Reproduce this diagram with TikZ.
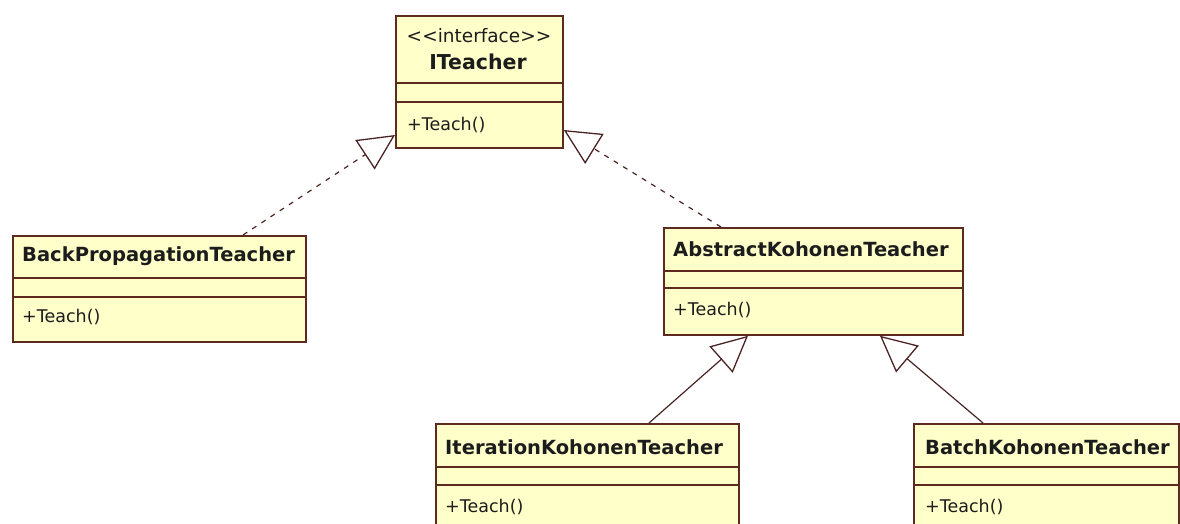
\documentclass[tikz,border=0pt]{standalone}
\usepackage{fontspec}
\setmainfont{DejaVu Sans}
\usetikzlibrary{arrows.meta,calc}
\definecolor{clsfill}{HTML}{FFFFCA}
\definecolor{clsline}{HTML}{5E2A20}
\definecolor{linkline}{HTML}{4A2424}
\definecolor{txt}{HTML}{1C1C1C}
\begin{document}
\begin{tikzpicture}[x=1pt,y=-1pt,
  cls/.style={draw=clsline, fill=clsfill, line width=1.8pt, rectangle, inner sep=0pt, anchor=north west},
  sepline/.style={draw=clsline, line width=1.6pt},
  title/.style={font=\fontsize{19.5}{22}\selectfont\bfseries, text=txt, inner sep=0pt, anchor=west},
  oper/.style={font=\fontsize{17.5}{20}\selectfont, text=txt, inner sep=0pt, anchor=west},
  stereo/.style={font=\fontsize{18.5}{20}\selectfont, text=txt, inner sep=0pt},
  realize/.style={draw=linkline, line width=1.2pt, dash pattern=on 5pt off 6pt,
    -{Triangle[open, length=36pt, width=35pt, line width=1.3pt]}},
  inherit/.style={draw=linkline, line width=1.2pt,
    -{Triangle[open, length=36pt, width=35pt, line width=1.3pt]}}
]
\useasboundingbox (0,0) rectangle (1180,524);
\fill[white] (0,0) rectangle (1180,524);
\clip (0,0) rectangle (1180,524);

% interface ITeacher
\node[cls, minimum width=167pt, minimum height=132pt] (it) at (395,15) {};
\draw[sepline] ([yshift=-68pt]it.north west) -- ([yshift=-68pt]it.north east);
\draw[sepline] ([yshift=-87pt]it.north west) -- ([yshift=-87pt]it.north east);
\node[stereo] (itS) at (479,36) {<{}<interface>{}>};
\node[title, anchor=center, font=\fontsize{20.5}{22}\selectfont\bfseries] (itN) at (478,62) {ITeacher};
\node[oper] (itO) at (407,125) {+Teach()};

% BackPropagationTeacher
\node[cls, minimum width=293pt, minimum height=106pt] (bp) at (12,235) {};
\draw[sepline] ([yshift=-43pt]bp.north west) -- ([yshift=-43pt]bp.north east);
\draw[sepline] ([yshift=-62pt]bp.north west) -- ([yshift=-62pt]bp.north east);
\node[title] (bpN) at (22,256) {BackPropagationTeacher};
\node[oper] (bpO) at (22,317) {+Teach()};

% AbstractKohonenTeacher
\node[cls, minimum width=299pt, minimum height=107pt] (ak) at (663,227) {};
\draw[sepline] ([yshift=-44pt]ak.north west) -- ([yshift=-44pt]ak.north east);
\draw[sepline] ([yshift=-61pt]ak.north west) -- ([yshift=-61pt]ak.north east);
\node[title] (akN) at (673,249) {AbstractKohonenTeacher};
\node[oper] (akO) at (673,310) {+Teach()};

% IterationKohonenTeacher
\node[cls, minimum width=303pt, minimum height=110pt] (ik) at (435,423) {};
\draw[sepline] ([yshift=-44pt]ik.north west) -- ([yshift=-44pt]ik.north east);
\draw[sepline] ([yshift=-62pt]ik.north west) -- ([yshift=-62pt]ik.north east);
\node[title] (ikN) at (445,447) {IterationKohonenTeacher};
\node[oper] (ikO) at (445,507) {+Teach()};

% BatchKohonenTeacher
\node[cls, minimum width=265pt, minimum height=110pt] (bk) at (913,423) {};
\draw[sepline] ([yshift=-44pt]bk.north west) -- ([yshift=-44pt]bk.north east);
\draw[sepline] ([yshift=-62pt]bk.north west) -- ([yshift=-62pt]bk.north east);
\node[title] (bkN) at (925,447) {BatchKohonenTeacher};
\node[oper] (bkO) at (925,507) {+Teach()};

% realizations of the interface
\draw[realize] ([xshift=231pt]bp.north west) -- ([yshift=-120pt]it.north west);
\draw[realize] ([xshift=58pt]ak.north west) -- ([yshift=-115pt]it.north east);

% generalizations
\draw[inherit] ([xshift=214pt]ik.north west) -- ([xshift=85pt]ak.south west);
\draw[inherit] ([xshift=70pt]bk.north west) -- ([xshift=217pt]ak.south west);
\end{tikzpicture}
\end{document}
